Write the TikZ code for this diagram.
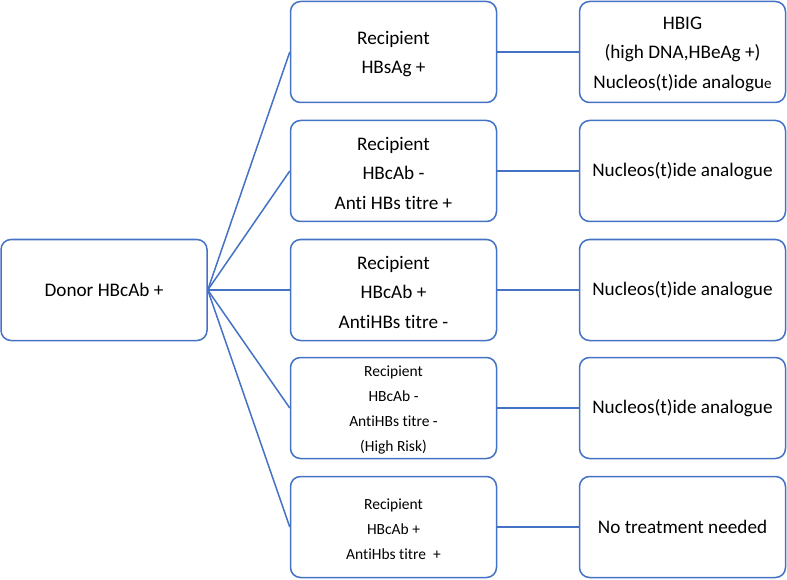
\documentclass[tikz,border=0pt]{standalone}
\usepackage{fontspec}
\setmainfont[Ligatures=NoCommon]{Carlito}
\definecolor{obl}{HTML}{4472C4}
\begin{document}
\begin{tikzpicture}[x=1pt,y=-1pt,
  box/.style={draw=obl,line width=1.5pt,rounded corners=10pt,minimum width=206pt,minimum height=101pt,align=center,inner sep=0pt},
  big/.style={font=\fontsize{19.2}{29.5}\selectfont},
  small/.style={font=\fontsize{15.5}{25.2}\selectfont},
  lbl/.style={align=center,inner sep=0pt,yshift=-2pt},
  conn/.style={draw=obl,line width=1.5pt}]
\useasboundingbox (0,0) rectangle (787,580);
\node[box,big] (donor) at (104,290) {Donor HBcAb +};
\node[box] (m1) at (393.5,52) {};
\node[box] (m2) at (393.5,171) {};
\node[box] (m3) at (393.5,290) {};
\node[box] (m4) at (393.5,408) {};
\node[box] (m5) at (393.5,527) {};
\node[box] (r1) at (682.5,52) {};
\node[box,big] (r2) at (682.5,171) {Nucleos(t)ide analogue};
\node[box,big] (r3) at (682.5,290) {Nucleos(t)ide analogue};
\node[box,big] (r4) at (682.5,408) {Nucleos(t)ide analogue};
\node[box,big] (r5) at (682.5,527) {No treatment needed};
\node[lbl,big] (t1) at (m1) {Recipient\\HBsAg +};
\node[lbl,big] (t2) at (m2) {Recipient\\HBcAb -\\Anti HBs titre +};
\node[lbl,big] (t3) at (m3) {Recipient\\HBcAb +\\AntiHBs titre -};
\node[lbl,small] (t4) at (m4) {Recipient\\HBcAb -\\AntiHBs titre -\\(High Risk)};
\node[lbl,small] (t5) at (m5) {Recipient\\HBcAb +\\AntiHbs titre\ \ +};
\node[lbl,big] (tr1) at (r1) {HBIG\\(high DNA,HBeAg +)\\Nucleos(t)ide analogu{\fontsize{15}{15}\selectfont e}};
\foreach \i in {1,...,5}{
  \draw[conn] (donor.east) -- (m\i.west);
  \draw[conn] (m\i.east) -- (r\i.west);
}
\end{tikzpicture}
\end{document}
